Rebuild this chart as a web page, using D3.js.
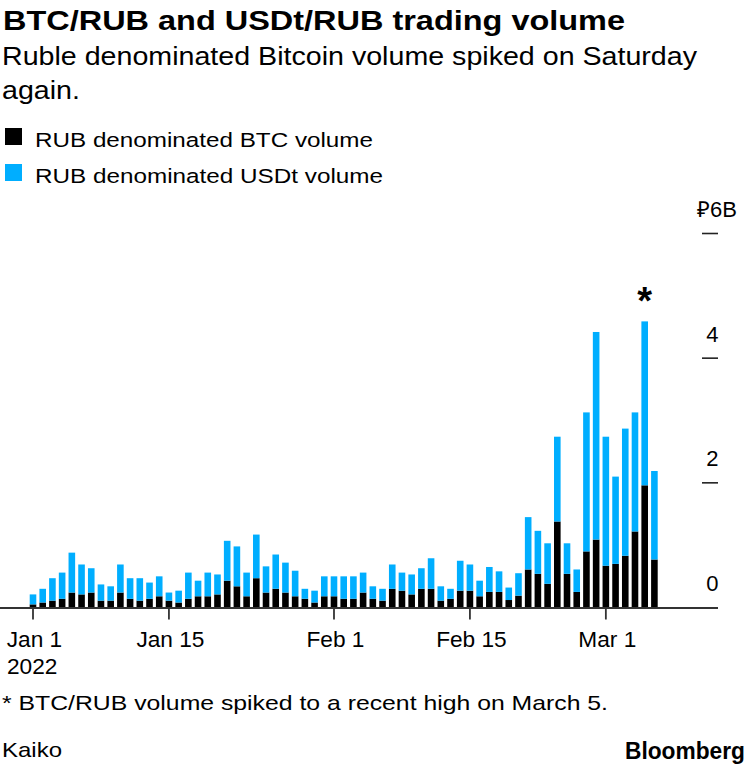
<!DOCTYPE html>
<html>
<head>
<meta charset="utf-8">
<script src="https://cdn.jsdelivr.net/npm/d3@7"></script>
<style>
  html, body { margin: 0; padding: 0; background: #fff; }
  svg { display: block; }
  text { font-family: "Liberation Sans", Arial, Helvetica, sans-serif; fill: #000; }
</style>
</head>
<body>
<svg id="chart" width="750" height="766"></svg>
<script>
// ---- Data ----
const startDate = new Date(2022, 0, 1);
const endDate = new Date(2022, 2, 6);
const days = d3.timeDay.range(startDate, d3.timeDay.offset(endDate, 1)); // Jan 1 .. Mar 6

const btcVolume = [
  0.05, 0.08, 0.11, 0.14, 0.24, 0.21, 0.24, 0.11, 0.11, 0.24,
  0.14, 0.11, 0.14, 0.18, 0.11, 0.08, 0.14, 0.18, 0.18, 0.21,
  0.43, 0.34, 0.18, 0.47, 0.24, 0.30, 0.24, 0.18, 0.14, 0.08,
  0.18, 0.18, 0.14, 0.14, 0.24, 0.14, 0.11, 0.30, 0.27, 0.21,
  0.30, 0.30, 0.11, 0.14, 0.27, 0.27, 0.18, 0.25, 0.25, 0.12,
  0.19, 0.61, 0.54, 0.38, 1.38, 0.54, 0.25, 0.90, 1.09, 0.67,
  0.70, 0.83, 1.22, 1.96, 0.77
];
const usdtVolume = [
  0.16, 0.22, 0.36, 0.42, 0.64, 0.48, 0.39, 0.26, 0.23, 0.45,
  0.33, 0.36, 0.26, 0.32, 0.13, 0.19, 0.42, 0.25, 0.38, 0.32,
  0.64, 0.64, 0.38, 0.70, 0.42, 0.55, 0.48, 0.41, 0.16, 0.19,
  0.32, 0.32, 0.36, 0.36, 0.32, 0.20, 0.19, 0.39, 0.29, 0.32,
  0.33, 0.49, 0.23, 0.16, 0.48, 0.42, 0.25, 0.40, 0.33, 0.20,
  0.36, 0.84, 0.69, 0.65, 1.36, 0.49, 0.36, 2.23, 3.33, 2.07,
  1.40, 2.04, 1.91, 2.63, 1.42
];
const seriesNames = ["RUB denominated BTC volume", "RUB denominated USDt volume"];
const seriesColors = ["#000000", "#00aeff"];
const yTicks = [0, 2, 4, 6];
const yTickLabels = ["0", "2", "4", "₽6B"];
const xTickDates = [new Date(2022,0,1), new Date(2022,0,15), new Date(2022,1,1), new Date(2022,1,15), new Date(2022,2,1)];
const xTickLabels = ["Jan 1", "Jan 15", "Feb 1", "Feb 15", "Mar 1"];
const highlightDate = new Date(2022, 2, 5);

const title = "BTC/RUB and USDt/RUB trading volume";
const subtitleLines = ["Ruble denominated Bitcoin volume spiked on Saturday", "again."];
const footnote = "* BTC/RUB volume spiked to a recent high on March 5.";
const source = "Kaiko";

// ---- Layout ----
const svg = d3.select("#chart");
const x = d3.scaleTime().domain([startDate, endDate]).range([33, 654.4]);
const y = d3.scaleLinear().domain([0, 6]).range([607.5, 233.5]);
const barW = 6.6;

// helper: stretch text horizontally to a target width (reference font is wider)
function stretchTo(sel, w) {
  sel.attr("textLength", w).attr("lengthAdjust", "spacingAndGlyphs");
}
function stretchBy(sel, k) {
  sel.each(function() {
    const n = this.getComputedTextLength();
    d3.select(this).attr("textLength", n * k).attr("lengthAdjust", "spacingAndGlyphs");
  });
}

// Title
svg.append("text").attr("x", 3).attr("y", 29.5)
  .attr("font-size", 28.5).attr("font-weight", "bold").text(title)
  .call(stretchTo, 622);

// Subtitle
const sub1 = svg.append("text").attr("x", 2).attr("y", 64.5)
  .attr("font-size", 25).text(subtitleLines[0]);
const subNat = sub1.node().getComputedTextLength();
const subK = 695 / subNat;
sub1.call(stretchTo, 695);
svg.append("text").attr("x", 2).attr("y", 98.5)
  .attr("font-size", 25).text(subtitleLines[1]).call(stretchBy, subK);

// Legend
const legendY = [128, 164];
const legendTargets = [338, 348];
seriesNames.forEach((name, i) => {
  svg.append("rect").attr("x", 5).attr("y", legendY[i]).attr("width", 17).attr("height", 17)
    .attr("fill", seriesColors[i]);
  svg.append("text").attr("x", 35).attr("y", legendY[i] + 19)
    .attr("font-size", 20.5).text(name).call(stretchTo, legendTargets[i]);
});

// Bars (stacked)
const stackData = days.map((d, i) => ({ date: d, btc: btcVolume[i], usdt: usdtVolume[i] }));
const stack = d3.stack().keys(["btc", "usdt"]);
const layers = stack(stackData);
svg.append("g").selectAll("g").data(layers).join("g")
  .attr("fill", (d, i) => seriesColors[i])
  .selectAll("rect").data(d => d).join("rect")
  .attr("x", d => x(d.data.date) - barW / 2)
  .attr("width", barW)
  .attr("y", d => y(d[1]))
  .attr("height", d => y(d[0]) - y(d[1]));

// Asterisk over highlighted bar
const hiIdx = days.findIndex(d => +d === +highlightDate);
svg.append("text").attr("x", x(highlightDate)).attr("y", y(btcVolume[hiIdx] + usdtVolume[hiIdx]) - 7)
  .attr("text-anchor", "middle").attr("font-size", 38).attr("font-weight", "bold").text("*");

// Y axis (right side): dashes and labels
const yAxisG = svg.append("g");
yTicks.forEach((t, i) => {
  if (t !== 0) {
    yAxisG.append("line").attr("x1", 702).attr("x2", 718)
      .attr("y1", y(t)).attr("y2", y(t)).attr("stroke", "#222").attr("stroke-width", 1.6);
  }
  const lbl = yAxisG.append("text").attr("y", y(t) - 16.5).attr("font-size", 22).text(yTickLabels[i]);
  if (i === yTicks.length - 1) {
    lbl.attr("x", 697);
  } else {
    lbl.attr("x", 718.5).attr("text-anchor", "end");
  }
});

// X axis baseline
svg.append("line").attr("x1", 0).attr("x2", 718).attr("y1", y(0) + 0.5).attr("y2", y(0) + 0.5)
  .attr("stroke", "#333").attr("stroke-width", 1.8);

// X ticks + labels
xTickDates.forEach((d, i) => {
  svg.append("line").attr("x1", x(d)).attr("x2", x(d)).attr("y1", y(0)).attr("y2", 619.5)
    .attr("stroke", "#333").attr("stroke-width", 1.8);
  const t = svg.append("text").attr("x", x(d) + 1.5).attr("y", 646.5).attr("text-anchor", "middle")
    .attr("font-size", 22).text(xTickLabels[i]);
  t.call(stretchBy, 1.03);
});
svg.append("text").attr("x", 7).attr("y", 673.5).attr("font-size", 22).text("2022").call(stretchBy, 1.03);

// Footnote, source, brand
svg.append("text").attr("x", 2).attr("y", 709.5).attr("font-size", 21).text(footnote).call(stretchTo, 606);
svg.append("text").attr("x", 2).attr("y", 756.5).attr("font-size", 21).text(source).call(stretchTo, 60);
svg.append("text").attr("x", 745).attr("y", 759).attr("text-anchor", "end")
  .attr("font-size", 23).attr("font-weight", "bold").text("Bloomberg").call(stretchTo, 120);
</script>
</body>
</html>
